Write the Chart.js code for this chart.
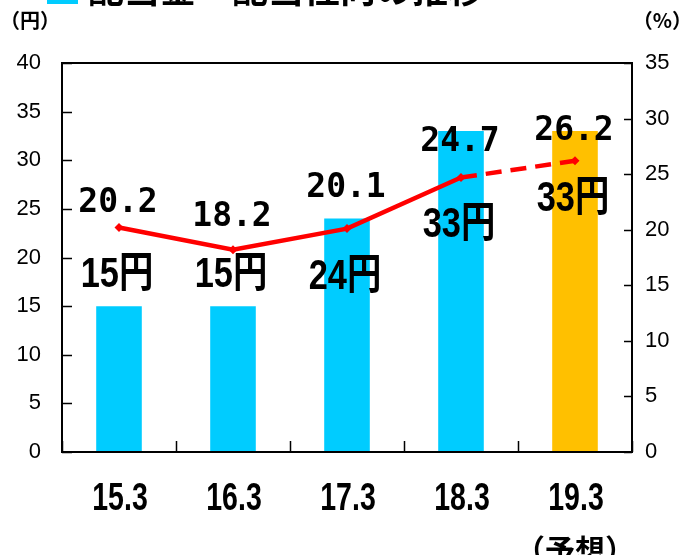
<!DOCTYPE html>
<html>
<head>
<meta charset="utf-8">
<script src="https://cdn.jsdelivr.net/npm/chart.js@4.4.0/dist/chart.umd.min.js"></script>
<style>
  html, body { margin: 0; padding: 0; background: #fff; }
  #wrap { width: 684px; height: 555px; }
</style>
</head>
<body>
<div id="wrap"><canvas id="dividendChart" width="684" height="555"></canvas></div>
<script>
// Chart values
const periods = ["15.3", "16.3", "17.3", "18.3", "19.3"];
const periodNotes = ["", "", "", "", "（予想）"];
const dividendYen = [15, 15, 24, 33, 33];       // 配当金 (円)
const payoutRatio = [20.2, 18.2, 20.1, 24.7, 26.2]; // 配当性向 (%)
const yenAxis = { min: 0, max: 40, step: 5 };
const pctAxis = { min: 0, max: 35, step: 5 };

// Styling
const barColors = ["#00CCFF", "#00CCFF", "#00CCFF", "#00CCFF", "#FFC000"];
const pctLabelShift = [-24, -32, -40, -35, -29]; // label centre relative to point
const yenLabelShift = [-31, -31, 59, 94, 68];    // label centre relative to bar top

const CJK = '"Noto Sans CJK JP"';

// draw text squeezed horizontally (no narrow font installed)
function squeezedText(ctx, text, x, y, sx) {
  ctx.save();
  ctx.translate(x, y);
  ctx.scale(sx, 1);
  ctx.fillText(text, 0, 0);
  ctx.restore();
}

// Box frame + inside tick marks
const framePlugin = {
  id: "frame",
  afterDatasetsDraw(chart) {
    const { ctx, chartArea: a, scales } = chart;
    ctx.save();
    ctx.strokeStyle = "#000";
    ctx.lineWidth = 2;
    ctx.strokeRect(a.left, a.top, a.right - a.left, a.bottom - a.top);

    ctx.lineWidth = 1.5;
    ctx.beginPath();
    scales.y.ticks.forEach((t) => {
      const y = Math.round(scales.y.getPixelForValue(t.value)) + 0.5;
      ctx.moveTo(a.left, y);
      ctx.lineTo(a.left + 10, y);
    });
    scales.y1.ticks.forEach((t) => {
      const y = Math.round(scales.y1.getPixelForValue(t.value)) + 0.5;
      ctx.moveTo(a.right - 8, y);
      ctx.lineTo(a.right, y);
    });
    const step = scales.x.getPixelForValue(1) - scales.x.getPixelForValue(0);
    for (let i = 0; i <= periods.length; i++) {
      const x = Math.round(scales.x.getPixelForValue(i) - step / 2) + 0.5;
      ctx.moveTo(x, a.bottom);
      ctx.lineTo(x, a.bottom - 11);
    }
    ctx.stroke();
    ctx.restore();
  },
};

// Value labels, period labels, unit captions and the clipped title
const labelPlugin = {
  id: "labels",
  afterDraw(chart) {
    const { ctx, scales } = chart;
    const barMeta = chart.getDatasetMeta(0);
    const lineMeta = chart.getDatasetMeta(1);
    ctx.save();
    ctx.fillStyle = "#000";
    ctx.textAlign = "center";
    ctx.textBaseline = "middle";

    ctx.font = 'bold 33px "DejaVu Sans Mono", ' + CJK;
    lineMeta.data.forEach((pt, i) => {
      ctx.fillText(payoutRatio[i].toFixed(1), pt.x - 1, pt.y + pctLabelShift[i]);
    });

    ctx.font = 'bold 43px "Liberation Sans", ' + CJK;
    barMeta.data.forEach((bar, i) => {
      squeezedText(ctx, dividendYen[i] + "円", bar.x - 2, bar.y + yenLabelShift[i], 0.8);
    });

    // period labels under the axis
    ctx.font = 'bold 38px "Liberation Sans"';
    periods.forEach((p, i) => {
      squeezedText(ctx, p, scales.x.getPixelForValue(i) + 1, scales.x.top + 48, 0.75);
    });
    ctx.font = "bold 30px " + CJK;
    periodNotes.forEach((note, i) => {
      if (note) ctx.fillText(note, scales.x.getPixelForValue(i), scales.x.top + 98);
    });

    ctx.font = "bold 20px " + CJK;
    ctx.textAlign = "left";
    ctx.fillText("（円）", 0, 20);
    ctx.textAlign = "right";
    ctx.fillText("（%）", 692, 20);

    // title sits mostly above the canvas edge
    ctx.fillStyle = "#00CCFF";
    ctx.fillRect(47, -20, 31, 24);
    ctx.fillStyle = "#000";
    ctx.textAlign = "left";
    ctx.textBaseline = "alphabetic";
    ctx.font = "bold 36px " + CJK;
    ctx.fillText("配当金・配当性向の推移", 88, 3);
    ctx.restore();
  },
};

const ctx = document.getElementById("dividendChart").getContext("2d");

new Chart(ctx, {
  type: "bar",
  data: {
    labels: periods,
    datasets: [
      {
        label: "配当金",
        data: dividendYen,
        backgroundColor: barColors,
        yAxisID: "y",
        barPercentage: 0.4,
        categoryPercentage: 1,
        order: 2,
      },
      {
        type: "line",
        label: "配当性向",
        data: payoutRatio,
        yAxisID: "y1",
        borderColor: "#FF0000",
        backgroundColor: "#FF0000",
        borderWidth: 4.5,
        pointStyle: "rectRot",
        pointRadius: 4.5,
        pointBorderWidth: 0,
        segment: {
          borderDash: (c) => (c.p0DataIndex === 3 ? [16, 9] : undefined),
        },
        order: 1,
      },
    ],
  },
  options: {
    responsive: false,
    animation: false,
    devicePixelRatio: 1,
    layout: { padding: { top: 63, left: 0, right: 0, bottom: 0 } },
    plugins: {
      legend: { display: false },
      tooltip: { enabled: false },
    },
    scales: {
      x: {
        grid: { display: false, drawTicks: false },
        border: { display: false },
        ticks: { display: false },
        afterFit: (s) => { s.height = 103; },
      },
      y: {
        position: "left",
        min: yenAxis.min,
        max: yenAxis.max,
        grid: { display: false, drawTicks: false },
        border: { display: false },
        ticks: {
          stepSize: yenAxis.step,
          color: "#000",
          font: { family: '"Liberation Sans"', size: 22 },
          padding: 21,
        },
        afterFit: (s) => { s.width = 62; },
      },
      y1: {
        position: "right",
        min: pctAxis.min,
        max: pctAxis.max,
        grid: { display: false, drawTicks: false },
        border: { display: false },
        ticks: {
          stepSize: pctAxis.step,
          color: "#000",
          font: { family: '"Liberation Sans"', size: 22 },
          padding: 13,
        },
        afterFit: (s) => { s.width = 52; },
      },
    },
  },
  plugins: [framePlugin, labelPlugin],
});
</script>
</body>
</html>
